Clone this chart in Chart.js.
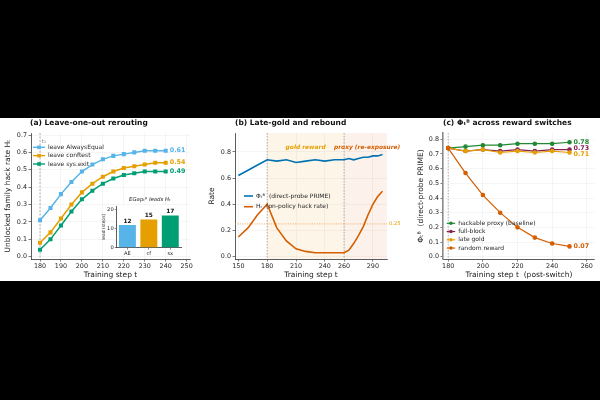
<!DOCTYPE html>
<html>
<head>
<meta charset="utf-8">
<script src="https://cdn.jsdelivr.net/npm/chart.js@4.4.1/dist/chart.umd.min.js"></script>
<style>
  html, body { margin: 0; padding: 0; background: #000; width: 600px; height: 400px; overflow: hidden; }
  #strip { position: absolute; left: 0; top: 118px; width: 600px; height: 163px; background: #fff; }
  canvas { position: absolute; }
</style>
</head>
<body>
<div id="strip">
  <canvas id="chartA" width="200" height="163" style="left:0;top:0;width:200px;height:163px"></canvas>
  <canvas id="chartInset" width="100" height="64" style="left:86px;top:78px;width:100px;height:64px"></canvas>
  <canvas id="chartB" width="200" height="163" style="left:200px;top:0;width:200px;height:163px"></canvas>
  <canvas id="chartC" width="200" height="163" style="left:400px;top:0;width:200px;height:163px"></canvas>
</div>
<script>
// (a) leave-one-out rerouting
const STEPS_A = [180, 185, 190, 195, 200, 205, 210, 215, 220, 225, 230, 235, 240];
const LEAVE_AE = [0.21, 0.28, 0.36, 0.43, 0.49, 0.53, 0.56, 0.58, 0.59, 0.60, 0.61, 0.61, 0.61];
const LEAVE_CF = [0.08, 0.14, 0.22, 0.30, 0.37, 0.42, 0.46, 0.49, 0.51, 0.52, 0.53, 0.54, 0.54];
const LEAVE_SX = [0.04, 0.10, 0.18, 0.26, 0.33, 0.38, 0.42, 0.45, 0.47, 0.48, 0.49, 0.49, 0.49];
const X_TICKS_A = [180, 190, 200, 210, 220, 230, 240, 250];
const Y_TICKS_A = [0, 0.1, 0.2, 0.3, 0.4, 0.5, 0.6, 0.7];

// inset: lead of EGap over H
const LEAD_CATS = ['AE', 'cf', 'sx'];
const LEAD_STEPS = [12, 15, 17];
const LEAD_TICKS = [0, 10, 20];

// (b) late-gold and rebound
const STEPS_B = [150, 160, 170, 180, 190, 200, 210, 220, 230, 240, 250, 260, 265, 270, 275, 280, 285, 290, 295, 300];
const PHI_B   = [0.62, 0.66, 0.70, 0.74, 0.73, 0.74, 0.72, 0.73, 0.74, 0.73, 0.74, 0.74, 0.75, 0.74, 0.75, 0.76, 0.76, 0.77, 0.77, 0.78];
const HACK_B  = [0.15, 0.22, 0.32, 0.40, 0.22, 0.12, 0.06, 0.04, 0.03, 0.03, 0.03, 0.03, 0.05, 0.10, 0.16, 0.23, 0.32, 0.40, 0.46, 0.50];
const X_TICKS_B = [150, 180, 210, 240, 260, 290];
const Y_TICKS_B = [0, 0.2, 0.4, 0.6, 0.8];
const GOLD_START = 180;
const PROXY_START = 260;
const HACK_THRESHOLD = 0.25;

// (c) phi across reward switches
const STEPS_C = [180, 190, 200, 210, 220, 230, 240, 250];
const PHI_PROXY  = [0.74, 0.75, 0.76, 0.76, 0.77, 0.77, 0.77, 0.78];
const PHI_BLOCK  = [0.74, 0.72, 0.73, 0.72, 0.73, 0.72, 0.73, 0.73];
const PHI_GOLD   = [0.74, 0.72, 0.73, 0.71, 0.72, 0.71, 0.72, 0.71];
const PHI_RANDOM = [0.74, 0.57, 0.42, 0.30, 0.20, 0.13, 0.09, 0.07];
const X_TICKS_C = [180, 200, 220, 240, 260];
const Y_TICKS_C = [0, 0.1, 0.2, 0.3, 0.4, 0.5, 0.6, 0.7, 0.8];

const FONT = "'DejaVu Sans', sans-serif";
Chart.defaults.font.family = FONT;
Chart.defaults.color = '#262626';

function pts(xs, ys) {
  return xs.map((x, i) => ({ x: x, y: ys[i] }));
}

function axis(o) {
  return {
    type: 'linear',
    position: o.pos,
    min: o.min,
    max: o.max,
    afterBuildTicks: s => { s.ticks = o.ticks.map(v => ({ value: v })); },
    afterFit: s => { if (o.pos === 'left') s.width = o.size; else s.height = o.size; },
    grid: { color: '#ebebeb', lineWidth: 0.5, tickLength: 2.5, tickColor: '#444', tickWidth: 0.7 },
    border: { color: o.border || '#333', width: o.borderWidth || 0.8 },
    ticks: {
      font: { size: 6.4 }, padding: 1.5, maxRotation: 0, autoSkip: false,
      callback: o.fmt || (v => String(v))
    },
    title: { display: true, text: o.title, font: { size: 7.5 }, color: '#1a1a1a', padding: o.pad }
  };
}

function lineDs(xs, ys, color, extra) {
  return Object.assign({
    data: pts(xs, ys), borderColor: color, backgroundColor: color,
    borderWidth: 1.4, pointRadius: 0, tension: 0, fill: false
  }, extra || {});
}

function text(ctx, str, x, y, font, color, align) {
  ctx.font = font;
  ctx.fillStyle = color;
  ctx.textAlign = align || 'left';
  ctx.textBaseline = 'middle';
  ctx.fillText(str, x, y);
}

function vline(ctx, x, a, color, dash) {
  ctx.save();
  ctx.strokeStyle = color;
  ctx.lineWidth = 0.8;
  ctx.setLineDash(dash);
  ctx.beginPath();
  ctx.moveTo(x, a.top);
  ctx.lineTo(x, a.bottom);
  ctx.stroke();
  ctx.restore();
}

function drawLegend(ctx, x0, y0, rowH, len, items) {
  items.forEach((it, i) => {
    const y = y0 + i * rowH;
    ctx.save();
    ctx.strokeStyle = it.color;
    ctx.lineWidth = it.lw || 1.4;
    ctx.beginPath();
    ctx.moveTo(x0, y);
    ctx.lineTo(x0 + len, y);
    ctx.stroke();
    ctx.fillStyle = it.color;
    const cx = x0 + len / 2;
    if (it.marker === 'rect') ctx.fillRect(cx - 1.8, y - 1.8, 3.6, 3.6);
    if (it.marker === 'circle') { ctx.beginPath(); ctx.arc(cx, y, 1.8, 0, Math.PI * 2); ctx.fill(); }
    ctx.restore();
    text(ctx, it.label, x0 + len + 3, y, '6px ' + FONT, '#262626');
  });
}

function endLabels(chart, items) {
  const { ctx, scales: { x, y } } = chart;
  items.forEach(it => {
    const last = it.xs.length - 1;
    const px = x.getPixelForValue(it.xs[last]) + 4;
    const py = y.getPixelForValue(it.ys[last]) + (it.dy || 0);
    text(ctx, it.ys[last].toFixed(2), px, py, 'bold 6.4px ' + FONT, it.color);
  });
}

const C_AE = '#56B4E9', C_CF = '#E69F00', C_SX = '#009E73';
const C_PHI = '#0072B2', C_HACK = '#D55E00';
const C_PROXY = '#228833', C_BLOCK = '#882255', C_GOLD = '#E69F00', C_RANDOM = '#D55E00';

// ---------- panel (a) ----------
const panelA = {
  id: 'panelA',
  beforeDatasetsDraw(chart) {
    const { ctx, chartArea: a, scales: { x } } = chart;
    vline(ctx, x.getPixelForValue(180), a, '#a0a0a0', [2, 1.5]);
  },
  afterDraw(chart) {
    const { ctx, chartArea: a, scales: { x } } = chart;
    text(ctx, '(a) Leave-one-out rerouting', a.left - 1, 5.5, 'bold 7.5px ' + FONT, '#111');
    text(ctx, 't₁', x.getPixelForValue(180) + 1.5, 23.5, 'italic 5.5px ' + FONT, '#888');
    drawLegend(ctx, 33, 29.3, 8.35, 12, [
      { label: 'leave AlwaysEqual', color: C_AE, marker: 'rect' },
      { label: 'leave conftest', color: C_CF, marker: 'rect' },
      { label: 'leave sys.exit', color: C_SX, marker: 'rect' }
    ]);
    endLabels(chart, [
      { xs: STEPS_A, ys: LEAVE_AE, color: C_AE },
      { xs: STEPS_A, ys: LEAVE_CF, color: C_CF },
      { xs: STEPS_A, ys: LEAVE_SX, color: C_SX }
    ]);
  }
};

const markA = { pointRadius: 1.8, pointStyle: 'rect', borderWidth: 1.5 };
new Chart(document.getElementById('chartA'), {
  type: 'line',
  data: {
    datasets: [
      lineDs(STEPS_A, LEAVE_AE, C_AE, markA),
      lineDs(STEPS_A, LEAVE_CF, C_CF, markA),
      lineDs(STEPS_A, LEAVE_SX, C_SX, markA)
    ]
  },
  options: {
    responsive: false, animation: false,
    layout: { padding: { top: 15, right: 10, left: 0, bottom: 0 } },
    plugins: { legend: { display: false }, tooltip: { enabled: false } },
    scales: {
      x: axis({ pos: 'bottom', min: 175.7, max: 251.6, ticks: X_TICKS_A, size: 22, title: 'Training step t', pad: { top: 0, bottom: 1.5 } }),
      y: axis({ pos: 'left', min: -0.013, max: 0.7115, ticks: Y_TICKS_A, size: 31, title: 'Unblocked family hack rate Hₜ', pad: { top: 3.5, bottom: 0 }, fmt: v => v.toFixed(1) })
    }
  },
  plugins: [panelA]
});

// ---------- inset ----------
const insetPlugin = {
  id: 'insetPlugin',
  beforeDraw(chart) {
    const { ctx, chartArea: a } = chart;
    ctx.save();
    ctx.fillStyle = '#fff';
    ctx.fillRect(a.left, a.top - 1, a.right - a.left, a.bottom - a.top + 1);
    ctx.restore();
  },
  afterDraw(chart) {
    const { ctx, chartArea: a, scales: { x, y } } = chart;
    text(ctx, 'EGapₜᴮ leads Hₜ', (a.left + a.right) / 2 + 1, 4, 'italic 5.4px ' + FONT, '#262626', 'center');
    LEAD_STEPS.forEach((v, i) => {
      text(ctx, String(v), x.getPixelForValue(i), y.getPixelForValue(v) - 4, 'bold 5.8px ' + FONT, '#111', 'center');
    });
  }
};

new Chart(document.getElementById('chartInset'), {
  type: 'bar',
  data: {
    labels: LEAD_CATS,
    datasets: [{ data: LEAD_STEPS, backgroundColor: [C_AE, C_CF, C_SX], barPercentage: 0.79, categoryPercentage: 1 }]
  },
  options: {
    responsive: false, animation: false,
    layout: { padding: { top: 10, right: 5, left: 0, bottom: 0 } },
    plugins: { legend: { display: false }, tooltip: { enabled: false } },
    scales: {
      x: {
        type: 'category',
        afterFit: s => { s.height = 12.3; },
        grid: { display: true, drawOnChartArea: false, offset: false, tickLength: 2, tickColor: '#444', tickWidth: 0.6 },
        border: { color: '#333', width: 0.8 },
        ticks: { font: { size: 5.2 }, padding: 1 }
      },
      y: {
        type: 'linear', min: 0, max: 22.1,
        afterBuildTicks: s => { s.ticks = LEAD_TICKS.map(v => ({ value: v })); },
        afterFit: s => { s.width = 30.7; },
        grid: { display: true, drawOnChartArea: false, tickLength: 2, tickColor: '#444', tickWidth: 0.6 },
        border: { color: '#333', width: 0.8 },
        ticks: { font: { size: 5.2 }, padding: 1 },
        title: { display: true, text: 'lead (steps)', font: { size: 4.4 }, padding: { top: 15, bottom: 0 } }
      }
    }
  },
  plugins: [insetPlugin]
});

// ---------- panel (b) ----------
const panelB = {
  id: 'panelB',
  beforeDatasetsDraw(chart) {
    const { ctx, chartArea: a, scales: { x, y } } = chart;
    const g0 = x.getPixelForValue(GOLD_START), g1 = x.getPixelForValue(PROXY_START);
    ctx.save();
    ctx.fillStyle = 'rgba(230,159,0,0.09)';
    ctx.fillRect(g0, a.top, g1 - g0, a.bottom - a.top);
    ctx.fillStyle = 'rgba(213,94,0,0.08)';
    ctx.fillRect(g1, a.top, a.right - g1, a.bottom - a.top);
    ctx.restore();
    vline(ctx, g0, a, '#999', [1.5, 1.5]);
    vline(ctx, g1, a, '#999', [1.5, 1.5]);
    const py = y.getPixelForValue(HACK_THRESHOLD);
    ctx.save();
    ctx.strokeStyle = '#F0A050';
    ctx.lineWidth = 0.8;
    ctx.setLineDash([1.2, 1.2]);
    ctx.beginPath();
    ctx.moveTo(a.left, py);
    ctx.lineTo(a.right, py);
    ctx.stroke();
    ctx.restore();
  },
  afterDraw(chart) {
    const { ctx, chartArea: a, scales: { x, y } } = chart;
    text(ctx, '(b) Late-gold and rebound', a.left, 5.5, 'bold 7.5px ' + FONT, '#111');
    text(ctx, 'gold reward', x.getPixelForValue(220), y.getPixelForValue(0.835), 'italic bold 5.9px ' + FONT, '#E69F00', 'center');
    text(ctx, 'proxy (re-exposure)', x.getPixelForValue(284), y.getPixelForValue(0.835), 'italic bold 5.9px ' + FONT, '#D55E00', 'center');
    text(ctx, '0.25', a.right + 2, y.getPixelForValue(HACK_THRESHOLD), '5.2px ' + FONT, '#E69F00');
    drawLegend(ctx, 44, 78, 10.7, 9, [
      { label: 'Φₜᴮ  (direct-probe PRIME)', color: C_PHI, lw: 1.6 },
      { label: 'Hₜ  (on-policy hack rate)', color: C_HACK, lw: 1.6 }
    ]);
  }
};

new Chart(document.getElementById('chartB'), {
  type: 'line',
  data: {
    datasets: [
      lineDs(STEPS_B, PHI_B, C_PHI, { borderWidth: 1.6 }),
      lineDs(STEPS_B, HACK_B, C_HACK, { borderWidth: 1.6 })
    ]
  },
  options: {
    responsive: false, animation: false,
    layout: { padding: { top: 15, right: 13, left: 0, bottom: 0 } },
    plugins: { legend: { display: false }, tooltip: { enabled: false } },
    scales: {
      x: axis({ pos: 'bottom', min: 146.5, max: 304.7, ticks: X_TICKS_B, size: 22, title: 'Training step t', pad: { top: 0, bottom: 1.5 } }),
      y: axis({ pos: 'left', min: -0.018, max: 0.945, ticks: Y_TICKS_B, size: 35, title: 'Rate', pad: { top: 7.5, bottom: 0 }, fmt: v => v.toFixed(1) })
    }
  },
  plugins: [panelB]
});

// ---------- panel (c) ----------
const panelC = {
  id: 'panelC',
  beforeDatasetsDraw(chart) {
    const { ctx, chartArea: a, scales: { x } } = chart;
    vline(ctx, x.getPixelForValue(180), a, '#a0a0a0', [1.5, 1.5]);
  },
  afterDraw(chart) {
    const { ctx, chartArea: a } = chart;
    text(ctx, '(c) Φₜᴮ across reward switches', a.left, 5.5, 'bold 7.5px ' + FONT, '#111');
    drawLegend(ctx, 46.7, 105.3, 8.25, 8.5, [
      { label: 'hackable proxy (baseline)', color: C_PROXY, marker: 'circle', lw: 1.2 },
      { label: 'full-block', color: C_BLOCK, marker: 'circle', lw: 1.2 },
      { label: 'late gold', color: C_GOLD, marker: 'circle', lw: 1.2 },
      { label: 'random reward', color: C_RANDOM, marker: 'circle', lw: 1.2 }
    ]);
    endLabels(chart, [
      { xs: STEPS_C, ys: PHI_PROXY, color: C_PROXY },
      { xs: STEPS_C, ys: PHI_BLOCK, color: C_BLOCK, dy: -0.8 },
      { xs: STEPS_C, ys: PHI_GOLD, color: C_GOLD, dy: 2.2 },
      { xs: STEPS_C, ys: PHI_RANDOM, color: C_RANDOM }
    ]);
  }
};

const markC = { pointRadius: 1.7, pointStyle: 'circle', borderWidth: 1.2 };
new Chart(document.getElementById('chartC'), {
  type: 'line',
  data: {
    datasets: [
      lineDs(STEPS_C, PHI_RANDOM, C_RANDOM, markC),
      lineDs(STEPS_C, PHI_GOLD, C_GOLD, markC),
      lineDs(STEPS_C, PHI_BLOCK, C_BLOCK, markC),
      lineDs(STEPS_C, PHI_PROXY, C_PROXY, markC)
    ]
  },
  options: {
    responsive: false, animation: false,
    layout: { padding: { top: 15, right: 1, left: 0, bottom: 0 } },
    plugins: { legend: { display: false }, tooltip: { enabled: false } },
    scales: {
      x: axis({ pos: 'bottom', min: 177, max: 264.6, ticks: X_TICKS_C, size: 22, title: 'Training step t  (post-switch)', pad: { top: 0, bottom: 1.5 } }),
      y: axis({ pos: 'left', min: -0.0157, max: 0.843, ticks: Y_TICKS_C, size: 43, title: 'Φₜᴮ  (direct-probe PRIME)', pad: { top: 16.5, bottom: 0 }, fmt: v => v.toFixed(1), border: '#8a8a8a', borderWidth: 1.6 })
    }
  },
  plugins: [panelC]
});
</script>
</body>
</html>
